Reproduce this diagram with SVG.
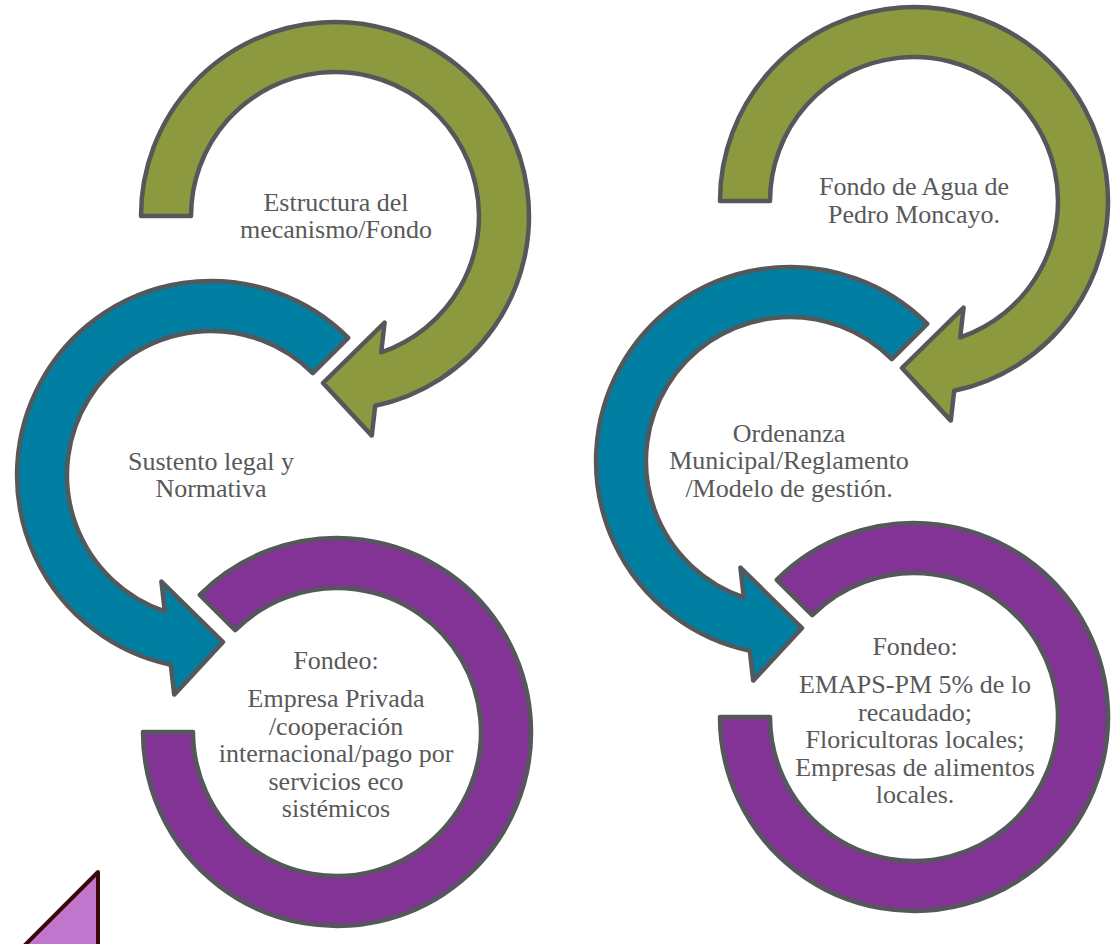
<svg xmlns="http://www.w3.org/2000/svg" width="1114" height="944" viewBox="0 0 1114 944">
<defs>
<style>
.arrow{stroke:#54585B;stroke-width:4.5;stroke-linejoin:round}
.g{fill:#8C993F}
.b{fill:#007FA3}
.p{fill:#833296}
.t{font-family:"Liberation Serif","Times New Roman",serif;font-size:26px;fill:#595959;text-anchor:middle}
</style>
<path id="cw" d="M -194 0 A 194 194 0 1 1 40.2 189.8 L 36.8 219.6 L -12 167 L 49.6 106.6 L 46.2 136.4 A 144 144 0 1 0 -144 0 Z"/>
<path id="ccw" d="M 137.2 -137.2 A 194 194 0 1 0 -40.2 189.8 L -36.8 219.6 L 12 167 L -49.6 106.6 L -46.2 136.4 A 144 144 0 1 1 101.8 -101.8 Z"/>
<path id="ring" d="M -137.2 -137.2 A 194 194 0 1 1 -194 0 L -144 0 A 144 144 0 1 0 -101.8 -101.8 Z"/>
</defs>
<rect width="1114" height="944" fill="#FFFFFF"/>
<g id="connectors"></g>
<g id="left-estructura" transform="translate(335,216)">
<use href="#cw" class="arrow g"/>
<text class="t" x="1" y="-5">Estructura del</text>
<text class="t" x="1" y="22">mecanismo/Fondo</text>
</g>
<g id="left-sustento" transform="translate(211,475)">
<use href="#ccw" class="arrow b"/>
<text class="t" x="0" y="-5">Sustento legal y</text>
<text class="t" x="0" y="22">Normativa</text>
</g>
<g id="left-fondeo" transform="translate(337,732)">
<use href="#ring" class="arrow p"/>
<text class="t" x="-1" y="-63">Fondeo:</text>
<text class="t" x="-1" y="-25">Empresa Privada</text>
<text class="t" x="-1" y="3">/cooperación</text>
<text class="t" x="-1" y="30">internacional/pago por</text>
<text class="t" x="-1" y="58">servicios eco</text>
<text class="t" x="-1" y="85">sistémicos</text>
</g>
<g id="right-fondo" transform="translate(914,201)">
<use href="#cw" class="arrow g"/>
<text class="t" x="0" y="-6">Fondo de Agua de</text>
<text class="t" x="0" y="22">Pedro Moncayo.</text>
</g>
<g id="right-ordenanza" transform="translate(790,461)">
<use href="#ccw" class="arrow b"/>
<text class="t" x="-1" y="-19">Ordenanza</text>
<text class="t" x="-1" y="8">Municipal/Reglamento</text>
<text class="t" x="-1" y="36">/Modelo de gestión.</text>
</g>
<g id="right-fondeo" transform="translate(914,717)">
<use href="#ring" class="arrow p"/>
<text class="t" x="1" y="-62">Fondeo:</text>
<text class="t" x="1" y="-24">EMAPS-PM 5% de lo</text>
<text class="t" x="1" y="4">recaudado;</text>
<text class="t" x="1" y="31">Floricultoras locales;</text>
<text class="t" x="1" y="59">Empresas de alimentos</text>
<text class="t" x="1" y="86">locales.</text>
</g>
<g id="triangle">
<polygon points="98,872 18,952 98,952" fill="#BF76CC" stroke="#3B0808" stroke-width="4" stroke-linejoin="round"/>
</g>
</svg>
